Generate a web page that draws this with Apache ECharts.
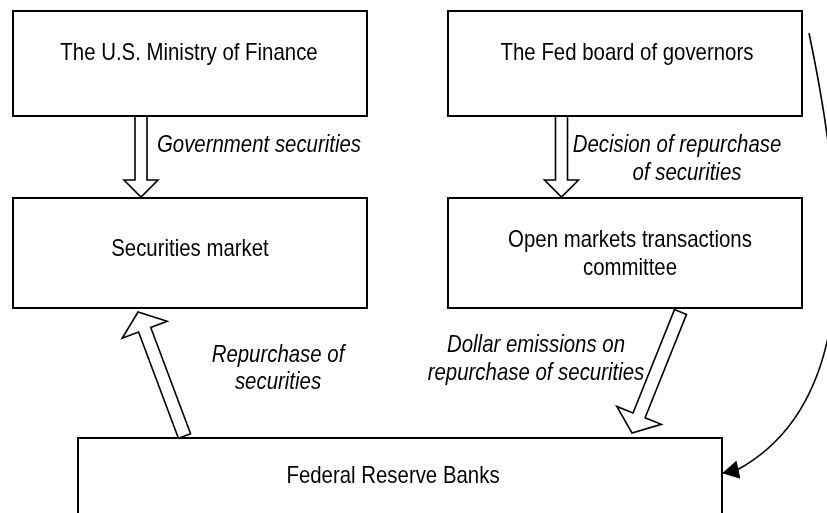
<!DOCTYPE html>
<html>
<head>
<meta charset="utf-8">
<script src="https://cdn.jsdelivr.net/npm/echarts@6/dist/echarts.min.js"></script>
<style>
  html, body { margin: 0; padding: 0; background: #fff; }
  #chart { width: 827px; height: 513px; }
</style>
</head>
<body>
<div id="chart"></div>
<script>
// ---- Diagram content (diagram units on hidden 0..827 x 0..513 axes) ----
const boxLabels = [
  'The U.S. Ministry of Finance',
  'The Fed board of governors',
  'Securities market',
  'Open markets transactions\ncommittee',
  'Federal Reserve Banks'
];
const boxX1 = [13, 448, 13, 448, 78];
const boxY1 = [11, 11, 198, 198, 438];
const boxX2 = [367, 802, 367, 802, 722];
const boxY2 = [116, 116, 308, 308, 540];
const boxLabelX = [189, 627, 190, 630, 393];
const boxLabelY = [53, 53, 249, 254, 476];

// hollow block arrows: tail centre -> tip
const arrowTailX = [141, 561.5, 184.5, 680.5];
const arrowTailY = [116, 116, 436, 312];
const arrowTipX = [141, 561.5, 138, 632];
const arrowTipY = [197, 197, 312, 433];
const arrowKind = ['straight', 'straight', 'slanted', 'slanted'];

// italic flow labels
const flowLabels = [
  'Government securities',
  'Decision of repurchase',
  'of securities',
  'Repurchase of',
  'securities',
  'Dollar emissions on',
  'repurchase of securities'
];
const flowLabelX = [259, 677, 687, 278, 278, 536, 536];
const flowLabelY = [145, 145, 173, 355, 382, 345, 373];

// curved control arrow (cubic Bezier) from Fed board to Federal Reserve Banks
const curveX = [809, 849, 860, 737];
const curveY = [33, 224, 403, 470];
const curveTipX = [723];
const curveTipY = [473];

// ---- styles ----
const FONT = '"Liberation Sans", Arial, sans-serif';
const FONT_SIZE = 24;
const TEXT_SCALE_X = 0.85;
const ARROW_GEOM = {
  straight: { shaft: 6, head: 17, len: 17 },
  slanted: { shaft: 6.5, head: 24, len: 19 }
};

const chart = echarts.init(document.getElementById('chart'), null, { renderer: 'canvas' });

function blockArrow(p0, p1, g) {
  const dx = p1[0] - p0[0], dy = p1[1] - p0[1];
  const L = Math.sqrt(dx * dx + dy * dy);
  const ux = dx / L, uy = dy / L, nx = -uy, ny = ux;
  const neck = [p1[0] - g.len * ux, p1[1] - g.len * uy];
  const pt = (b, k) => [b[0] + k * nx, b[1] + k * ny];
  return [pt(p0, g.shaft), pt(neck, g.shaft), pt(neck, g.head), p1,
          pt(neck, -g.head), pt(neck, -g.shaft), pt(p0, -g.shaft)];
}

function textEl(p, text, italic, lineHeight) {
  return {
    type: 'text', x: p[0], y: p[1], scaleX: TEXT_SCALE_X,
    style: {
      text: text, fill: '#000',
      fontFamily: FONT, fontSize: FONT_SIZE, fontStyle: italic ? 'italic' : 'normal',
      lineHeight: lineHeight || 28,
      align: 'center', verticalAlign: 'middle'
    }
  };
}

const option = {
  animation: false,
  backgroundColor: '#ffffff',
  grid: { left: 0, right: 0, top: 0, bottom: 0 },
  xAxis: { type: 'value', min: 0, max: 827, show: false },
  yAxis: { type: 'value', min: 0, max: 513, inverse: true, show: false },
  series: [
    {
      type: 'custom', name: 'arrows', clip: false, z: 2,
      data: arrowTailX.map((v, i) => [v, arrowTailY[i], arrowTipX[i], arrowTipY[i]]),
      renderItem: function (params, api) {
        const p0 = api.coord([api.value(0), api.value(1)]);
        const p1 = api.coord([api.value(2), api.value(3)]);
        const g = ARROW_GEOM[arrowKind[params.dataIndex]];
        return {
          type: 'polygon',
          shape: { points: blockArrow(p0, p1, g) },
          style: { fill: '#fff', stroke: '#000', lineWidth: 1.6, lineJoin: 'miter' }
        };
      }
    },
    {
      type: 'custom', name: 'boxes', clip: false, z: 3,
      data: boxX1.map((v, i) => [v, boxY1[i], boxX2[i], boxY2[i]]),
      renderItem: function (params, api) {
        const a = api.coord([api.value(0), api.value(1)]);
        const b = api.coord([api.value(2), api.value(3)]);
        return {
          type: 'rect',
          shape: { x: a[0], y: a[1], width: b[0] - a[0], height: b[1] - a[1] },
          style: { fill: '#fff', stroke: '#000', lineWidth: 2 }
        };
      }
    },
    {
      type: 'custom', name: 'boxLabels', clip: false, z: 4,
      data: boxLabelX.map((v, i) => [v, boxLabelY[i]]),
      renderItem: function (params, api) {
        const p = api.coord([api.value(0), api.value(1)]);
        return textEl(p, boxLabels[params.dataIndex], false, 28);
      }
    },
    {
      type: 'custom', name: 'flowLabels', clip: false, z: 4,
      data: flowLabelX.map((v, i) => [v, flowLabelY[i]]),
      renderItem: function (params, api) {
        const p = api.coord([api.value(0), api.value(1)]);
        return textEl(p, flowLabels[params.dataIndex], true, 28);
      }
    },
    {
      type: 'custom', name: 'curve', clip: false, z: 5,
      data: [[curveX[0], curveY[0], curveX[3], curveY[3]]],
      renderItem: function (params, api) {
        const c = curveX.map((v, i) => api.coord([v, curveY[i]]));
        const tip = api.coord([curveTipX[0], curveTipY[0]]);
        const end = c[3];
        const dx = tip[0] - end[0], dy = tip[1] - end[1];
        const L = Math.sqrt(dx * dx + dy * dy);
        const nx = -dy / L, ny = dx / L, w = 8.5;
        const base = [end[0] + 1 * (end[0] - tip[0]) / L, end[1] + 1 * (end[1] - tip[1]) / L];
        return {
          type: 'group',
          children: [
            {
              type: 'bezierCurve',
              shape: { x1: c[0][0], y1: c[0][1], cpx1: c[1][0], cpy1: c[1][1],
                       cpx2: c[2][0], cpy2: c[2][1], x2: c[3][0], y2: c[3][1] },
              style: { fill: null, stroke: '#000', lineWidth: 1.6 }
            },
            {
              type: 'polygon',
              shape: { points: [tip, [base[0] + w * nx, base[1] + w * ny], [base[0] - w * nx, base[1] - w * ny]] },
              style: { fill: '#000', stroke: '#000', lineWidth: 1 }
            }
          ]
        };
      }
    }
  ]
};
chart.setOption(option);
</script>
</body>
</html>
